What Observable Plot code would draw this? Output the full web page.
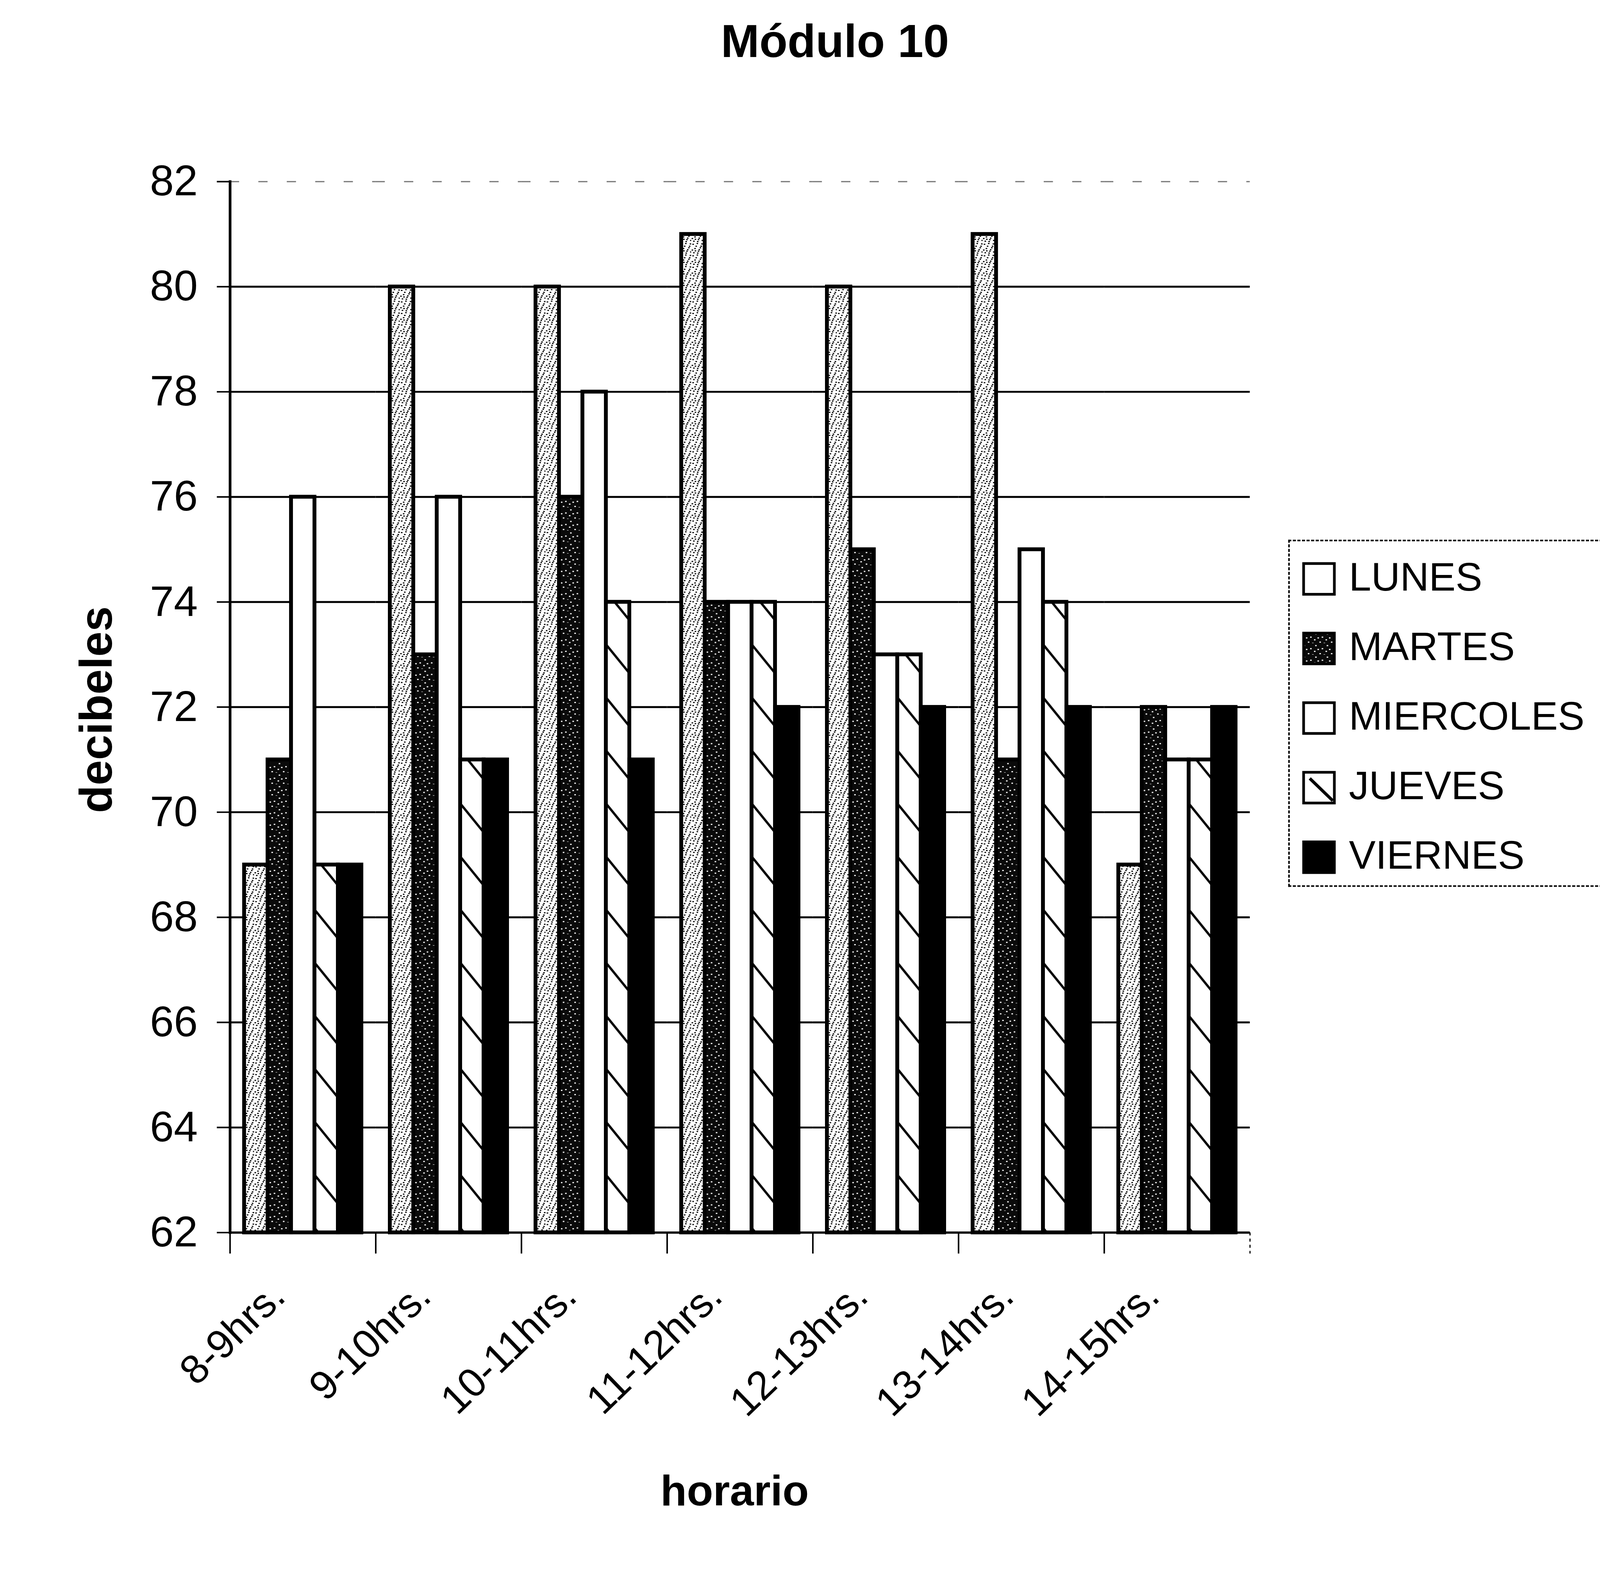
<!DOCTYPE html>
<html>
<head>
<meta charset="utf-8">
<script src="https://cdn.jsdelivr.net/npm/d3@7"></script>
<script src="https://cdn.jsdelivr.net/npm/@observablehq/plot@0.6"></script>
<style>
  html, body { margin: 0; padding: 0; background: #fff; overflow: hidden; }
  #wrap { position: relative; width: 4162px; height: 4063px; overflow: hidden; transform-origin: 0 0;
          font-family: "Liberation Sans", Arial, Helvetica, sans-serif; color: #000; background: #fff; }
  #wrap > svg { position: absolute; left: 0; top: 0; }
  .abs { position: absolute; white-space: nowrap; line-height: 1; }
  #title { left: 2172px; top: 46px; transform: translateX(-50%); font-size: 120px; font-weight: bold; }
  #xlabel { left: 1911px; top: 3822px; transform: translateX(-50%); font-size: 112px; font-weight: bold; }
  #ylabel { left: 250px; top: 1846px; transform: translate(-50%, -50%) rotate(-90deg); font-size: 118px; font-weight: bold; }
  #legend { position: absolute; left: 3351px; top: 1404px; width: 830px; height: 903px;
            border: 4px dashed #000; box-sizing: border-box; }
  .item { position: absolute; left: 32px; height: 90px; }
  .item svg { position: absolute; left: 0; top: 0; }
  .item span { position: absolute; left: 122px; top: -14px; font-size: 104px; line-height: 1; white-space: nowrap; }
</style>
</head>
<body>
<div id="wrap">
  <div id="title" class="abs">Módulo 10</div>
  <div id="ylabel" class="abs">decibeles</div>
  <div id="xlabel" class="abs">horario</div>
  <div id="legend"></div>
</div>
<script>
// ---- data ----
const horas = ["8-9hrs.", "9-10hrs.", "10-11hrs.", "11-12hrs.", "12-13hrs.", "13-14hrs.", "14-15hrs."];
const dias = ["LUNES", "MARTES", "MIERCOLES", "JUEVES", "VIERNES"];
const lunes     = [69, 80, 80, 81, 80, 81, 69];
const martes    = [71, 73, 76, 74, 75, 71, 72];
const miercoles = [76, 76, 78, 74, 73, 75, 71];
const jueves    = [69, 71, 74, 74, 73, 74, 71];
const viernes   = [69, 71, 71, 72, 72, 72, 72];
const yTicks = [62, 64, 66, 68, 70, 72, 74, 76, 78, 80, 82];

// ---- build table ----
const series = [lunes, martes, miercoles, jueves, viernes];
const rows = horas.flatMap((h, i) => dias.map((d, j) => ({hora: h, dia: d, db: series[j][i]})));
const fills = ["url(#pLunes)", "url(#pMartes)", "#ffffff", "url(#pJueves)", "#000000"];

const W = 4162, H = 4063, mL = 597, mR = 911, mT = 472, mB = 857;
const step = (W - mL - mR) / horas.length;
const yMin = yTicks[0], yMax = yTicks[yTicks.length - 1];

const chart = Plot.plot({
  width: W, height: H,
  marginLeft: mL, marginRight: mR, marginTop: mT, marginBottom: mB,
  style: {fontFamily: "Liberation Sans, Arial, sans-serif", background: "transparent", color: "#000", overflow: "visible"},
  fx: {domain: horas, padding: 0, label: null},
  x: {domain: dias, paddingInner: 0, paddingOuter: 0.595, axis: null},
  y: {domain: [yMin, yMax], label: null},
  color: {domain: dias, range: fills},
  marks: [
    Plot.ruleY(yTicks.slice(1, -1), {stroke: "#000", strokeWidth: 5}),
    Plot.ruleY([yMax], {stroke: "#000", strokeWidth: 3, strokeDasharray: "24,50", strokeOpacity: 0.55}),
    Plot.barY(rows, {fx: "hora", x: "dia", y1: yMin, y2: "db", fill: "dia", stroke: "#000", strokeWidth: 10}),
    Plot.ruleY([yMin], {stroke: "#000", strokeWidth: 6}),
    Plot.frame({anchor: "left", facetAnchor: "left", stroke: "#000", strokeWidth: 7}),
    Plot.axisY({ticks: yTicks, tickSize: 34, tickPadding: 50, fontSize: 112, strokeWidth: 4, label: null, tickFormat: d => String(d)}),
    Plot.axisFx({anchor: "bottom", tickSize: 0, tickRotate: -44, tickPadding: 148, fontSize: 106, label: null, dx: -64}),
    Plot.axisFx({anchor: "bottom", tickSize: 55, fill: "none", dx: -step / 2, strokeWidth: 4, label: null}),
    Plot.axisFx({anchor: "bottom", ticks: [horas[horas.length - 1]], tickSize: 55, fill: "none", dx: step / 2, strokeWidth: 3, strokeDasharray: "8,8", label: null})
  ]
});

const wrap = document.getElementById("wrap");
wrap.insertBefore(chart, wrap.firstChild);

// ---- patterns ----
const svg = d3.select(chart);
const defs = svg.insert("defs", ":first-child");
// light speckle (LUNES)
const speckA = [[3,4],[14,2],[24,9],[8,15],[19,18],[27,24],[5,26],[15,27],[11,9],[22,13],[1,19],[17,22],[26,3],[9,21]];
const pl = defs.append("pattern").attr("id", "pLunes").attr("patternUnits", "userSpaceOnUse").attr("width", 30).attr("height", 30);
pl.append("rect").attr("width", 30).attr("height", 30).attr("fill", "#fff");
speckA.forEach(([a, b]) => pl.append("rect").attr("x", a).attr("y", b).attr("width", 4).attr("height", 3).attr("fill", "#000"));
// dark speckle (MARTES)
const pm = defs.append("pattern").attr("id", "pMartes").attr("patternUnits", "userSpaceOnUse").attr("width", 30).attr("height", 30);
pm.append("rect").attr("width", 30).attr("height", 30).attr("fill", "#0a0a0a");
speckA.slice(0, 6).forEach(([a, b]) => pm.append("rect").attr("x", (a + 7) % 30).attr("y", (b + 11) % 30).attr("width", 4).attr("height", 3).attr("fill", "#fff"));
// hatch (JUEVES), aligned to the bar width
const jr = chart.querySelector('rect[fill="url(#pJueves)"]');
const jx = jr ? +jr.getAttribute("x") : 0, jw = jr ? +jr.getAttribute("width") : 60;
const pj = defs.append("pattern").attr("id", "pJueves").attr("patternUnits", "userSpaceOnUse")
  .attr("x", jx).attr("y", 0).attr("width", jw).attr("height", 138);
pj.append("rect").attr("width", jw).attr("height", 138).attr("fill", "#fff");
pj.append("line").attr("x1", 0).attr("y1", 20).attr("x2", jw).attr("y2", 95).attr("stroke", "#000").attr("stroke-width", 6);

// ---- legend ----
const legend = d3.select("#legend");
dias.forEach((d, j) => {
  const it = legend.append("div").attr("class", "item").style("top", (54 + j * 181) + "px");
  const s = it.append("svg").attr("width", 90).attr("height", 90);
  const isHatch = fills[j] === "url(#pJueves)";
  const isLight = fills[j] === "url(#pLunes)";
  s.append("rect").attr("x", 4).attr("y", 4).attr("width", 80).attr("height", 80)
    .attr("fill", isHatch || isLight ? "#fff" : fills[j]).attr("stroke", "#000").attr("stroke-width", 7);
  if (isHatch) s.append("line").attr("x1", 20).attr("y1", 20).attr("x2", 80).attr("y2", 78).attr("stroke", "#000").attr("stroke-width", 8);
  it.append("span").text(d);
});

// ---- fit the page into the actual viewport ----
function fit() {
  const vw = document.documentElement.clientWidth || window.innerWidth;
  const vh = document.documentElement.clientHeight || window.innerHeight;
  const s = Math.min(1, vw / W, vh / H);
  wrap.style.transform = s < 1 ? `scale(${s})` : "";
}
fit();
window.addEventListener("resize", fit);
</script>
</body>
</html>
